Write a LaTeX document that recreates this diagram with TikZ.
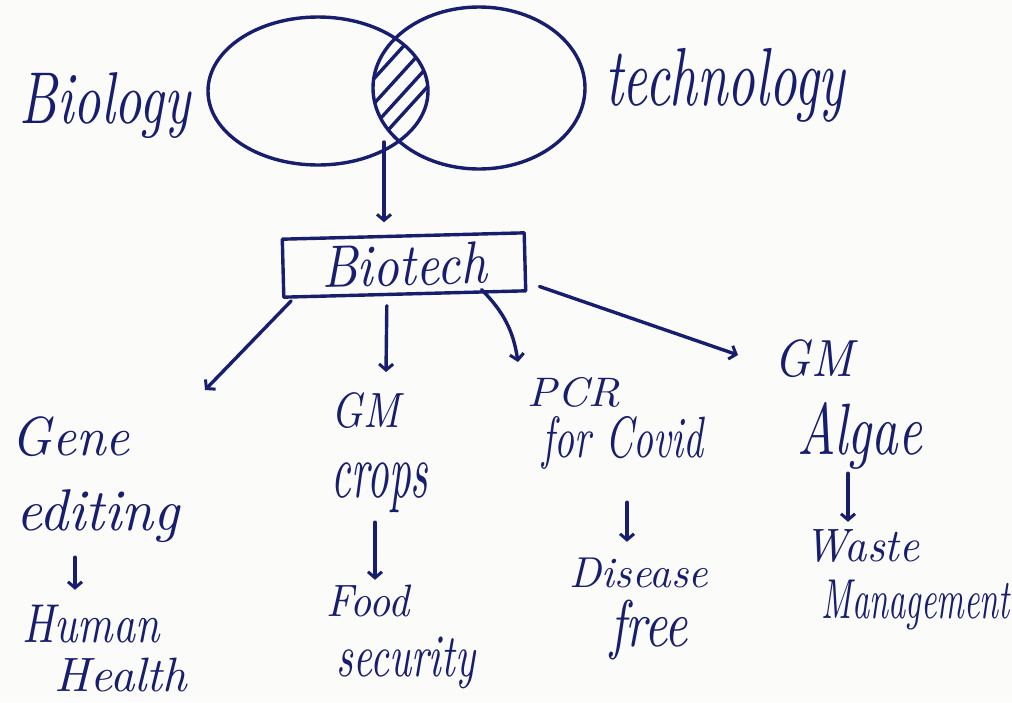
\documentclass[tikz,border=0pt]{standalone}
\usepackage{graphicx}
\usetikzlibrary{arrows.meta}
\definecolor{ink}{RGB}{24,30,110}
\definecolor{paper}{RGB}{251,251,249}
% hand-lettered label scaled to a given width and total height
\newcommand{\hw}[3]{\resizebox*{#1pt}{#2pt}{\itshape #3}}

\begin{document}
\begin{tikzpicture}[x=1pt,y=-1pt,
  inkline/.style={draw=ink, line width=3.4pt, line cap=round, line join=round},
  arr/.style={inkline, -{Straight Barb[length=6pt,width=14pt,line width=3pt]}},
  hw/.style={text=ink, inner sep=0pt, anchor=center},
  titlebox/.style={inkline, minimum width=242pt, minimum height=58pt, inner sep=0pt, text=ink}]

\fill[paper] (0,0) rectangle (1012,702);
\useasboundingbox (0,0) rectangle (1012,702);

% Venn diagram of the two fields
\draw[inkline] (318,91) ellipse [x radius=110, y radius=74];
\draw[inkline] (479,88) ellipse [x radius=106, y radius=81];
\begin{scope}
  \clip (318,91) ellipse [x radius=110, y radius=74];
  \clip (479,88) ellipse [x radius=106, y radius=81];
  \foreach \c in {72,97,119,139}
    \draw[inkline] (350,\c+33) -- (450,\c-77);
\end{scope}
\coordinate (lens) at (384,142);

\node[hw] (biology) at (105,106) {\hw{170}{66}{Biology}};
\node[hw] (technology) at (725,85) {\hw{240}{74}{technology}};

% central box
\node[titlebox, rotate=1.5] (bt) at (404,265) {\hw{165}{42}{Biotech}};
\draw[arr, shorten >=12pt] (lens) -- (lens |- bt.north);

% branch ends
\coordinate (gEnd) at (205,390);
\coordinate (cEnd) at (386,372);
\coordinate (pEnd) at (518,362);
\coordinate (aEnd) at (738,355);

\draw[arr] ([xshift=9pt,yshift=-2pt]bt.south west) -- (gEnd);
\draw[arr] ([xshift=-18pt,yshift=-10pt]bt.south) -- (cEnd);
\draw[arr] ([xshift=-46pt,yshift=3pt]bt.south east) to[bend left=18] (pEnd);
\draw[arr] ([xshift=12pt,yshift=6pt]bt.south east) -- (aEnd);

% applications
\node[hw] (gene) at (71,437) {\hw{118}{40}{Gene}};
\node[hw] (edit) at (98,516) {\hw{163}{53}{editing}};
\node[hw] (human) at (91,624) {\hw{137}{38}{Human}};
\node[hw] (health) at (121,675) {\hw{132}{34}{Health}};

\node[hw] (gm1) at (366,411) {\hw{68}{36}{GM}};
\node[hw] (crops) at (380,488) {\hw{96}{50}{crops}};
\node[hw] (food) at (368,601) {\hw{83}{32}{Food}};
\node[hw] (security) at (406,663) {\hw{138}{52}{security}};

\node[hw] (pcr) at (574,392) {\hw{92}{30}{PCR}};
\node[hw] (covid) at (623,443) {\hw{160}{53}{for Covid}};
\node[hw] (disease) at (639,573) {\hw{138}{30}{Disease}};
\node[hw] (free) at (649,630) {\hw{78}{60}{free}};

\node[hw] (gm2) at (814,359) {\hw{78}{38}{GM}};
\node[hw] (algae) at (860,436) {\hw{124}{67}{Algae}};
\node[hw] (waste) at (862,546) {\hw{115}{33}{Waste}};
\node[hw] (manage) at (916,605) {\hw{188}{50}{Management}};

% outcomes
\draw[arr] ([xshift=-23pt,yshift=-14.5pt]edit.south) -- ([xshift=-16pt,yshift=15pt]human.north);
\draw[arr] ([xshift=-5pt,yshift=-9pt]crops.south) -- ([xshift=7pt,yshift=5pt]food.north);
\draw[arr] ([xshift=4pt,yshift=-32.5pt]covid.south) -- ([xshift=-12pt,yshift=16pt]disease.north);
\draw[arr] ([xshift=-12pt,yshift=-3.5pt]algae.south) -- ([xshift=-14pt,yshift=7.5pt]waste.north);
\end{tikzpicture}
\end{document}
